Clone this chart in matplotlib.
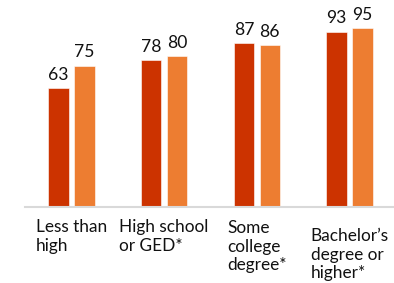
import matplotlib
matplotlib.use("Agg")
import matplotlib.pyplot as plt
import numpy as np
from matplotlib.transforms import blended_transform_factory, offset_copy

categories = ["Less than\nhigh", "High school\nor GED*", "Some\ncollege\ndegree*", "Bachelor\u2019s\ndegree or\nhigher*"]
series_a = [63, 78, 87, 93]
series_b = [75, 80, 86, 95]

color_a = "#CC3300"
color_b = "#ED7D31"

plt.rcParams['font.family'] = ['Lato', 'DejaVu Sans']

fig = plt.figure(figsize=(3.94, 2.83), dpi=100)
ax = fig.add_axes([25/394, 76/283, 371/394, 207/283])

x = np.arange(len(categories))
w = 0.223
off = 0.140
ba = ax.bar(x - off, series_a, w, color=color_a, edgecolor="white", linewidth=0.4)
bb = ax.bar(x + off, series_b, w, color=color_b, edgecolor="white", linewidth=0.4)
ax.bar_label(ba, padding=4, fontsize=12.6, color="#111111")
ax.bar_label(bb, padding=4, fontsize=12.6, color="#111111")

ax.set_xlim(-0.5, 3.5)
ax.set_ylim(0, 110)
ax.set_xticks([])
ax.set_yticks([])

# category labels (last one sits a bit lower, as in the reference)
label_drop_px = [0, 0, 1, 9]
trans = blended_transform_factory(ax.transData, ax.transAxes)
for xi, lab, d in zip(x, categories, label_drop_px):
    t = offset_copy(trans, fig=fig, x=0, y=-(12 + d), units="dots")
    ax.text(xi, 0, lab, transform=t, ha="center", va="top", multialignment="left",
            fontsize=12.4, color="#111111", linespacing=1.2)

for s in ["top", "right", "left"]:
    ax.spines[s].set_visible(False)
ax.spines["bottom"].set_color("#D9D9D9")
ax.spines["bottom"].set_linewidth(1.5)

fig.savefig("out.png", dpi=100)
